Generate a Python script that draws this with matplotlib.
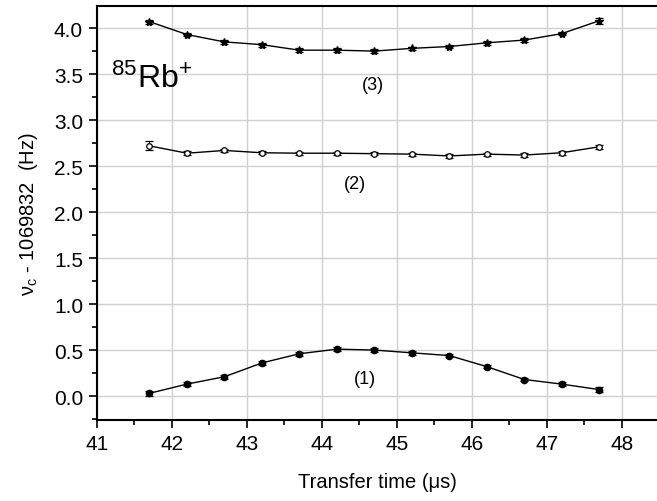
import matplotlib
matplotlib.use("Agg")
import matplotlib.pyplot as plt
from matplotlib.ticker import MultipleLocator

plt.rcParams['font.family'] = ['Liberation Sans', 'DejaVu Sans']
plt.rcParams['mathtext.fontset'] = 'custom'
plt.rcParams['mathtext.rm'] = 'Liberation Sans'
plt.rcParams['mathtext.it'] = 'Liberation Sans'

transfer_time = [41.7, 42.2, 42.7, 43.2, 43.7, 44.2, 44.7, 45.2, 45.7, 46.2, 46.7, 47.2, 47.7]
series3 = [4.07, 3.93, 3.85, 3.82, 3.76, 3.76, 3.75, 3.78, 3.80, 3.84, 3.87, 3.94, 4.08]
series3_err = [0.02, 0.02, 0.02, 0.02, 0.02, 0.02, 0.02, 0.02, 0.02, 0.02, 0.02, 0.02, 0.03]
series2 = [2.72, 2.64, 2.67, 2.645, 2.64, 2.64, 2.635, 2.63, 2.61, 2.63, 2.62, 2.645, 2.71]
series2_err = [0.05, 0.02, 0.02, 0.015, 0.015, 0.015, 0.015, 0.015, 0.02, 0.015, 0.02, 0.02, 0.02]
series1 = [0.03, 0.13, 0.21, 0.36, 0.46, 0.51, 0.50, 0.47, 0.44, 0.32, 0.18, 0.13, 0.07]
series1_err = [0.03, 0.02, 0.02, 0.02, 0.02, 0.02, 0.02, 0.02, 0.02, 0.02, 0.02, 0.02, 0.03]

fig = plt.figure(figsize=(6.57, 5.02), dpi=100)
ax = fig.add_axes([0.1476, 0.1614, 0.8524, 0.8246])

common = dict(color='black', lw=1.0, elinewidth=0.9, capsize=3, capthick=0.9)
ax.errorbar(transfer_time, series3, yerr=series3_err, fmt='-*', ms=6, mfc='black', **common, zorder=3)
ax.errorbar(transfer_time, series2, yerr=series2_err, fmt='-o', ms=4, mfc='white', mew=0.9, **common, zorder=3)
ax.errorbar(transfer_time, series1, yerr=series1_err, fmt='-o', ms=4.5, mfc='black', **common, zorder=3)

ax.set_xlim(41, 48.47)
ax.set_ylim(-0.26, 4.24)
ax.xaxis.set_major_locator(MultipleLocator(1))
ax.xaxis.set_minor_locator(MultipleLocator(0.5))
ax.yaxis.set_major_locator(MultipleLocator(0.5))
ax.yaxis.set_minor_locator(MultipleLocator(0.25))
ax.yaxis.set_major_formatter(matplotlib.ticker.FormatStrFormatter('%.1f'))

ax.grid(True, which='major', color='#d0d0d0', lw=1.0)
ax.set_axisbelow(True)
ax.spines['right'].set_visible(False)
for s in ['left', 'bottom', 'top']:
    ax.spines[s].set_linewidth(1.5)
ax.tick_params(which='major', direction='out', length=6, width=1.2, labelsize=15, pad=4, top=False, right=False)
ax.tick_params(which='minor', direction='out', length=3.5, width=1.2, top=False, right=False)

ax.set_xlabel('Transfer time (\u03bcs)', fontsize=14.5, labelpad=14)
ax.set_ylabel(r'$\mathregular{\nu_c}$ - 1069832  (Hz)', fontsize=14.5, labelpad=10)

ax.text(44.68, 3.39, '(3)', fontsize=13, ha='center', va='center')
ax.text(44.44, 2.31, '(2)', fontsize=13, ha='center', va='center')
ax.text(44.57, 0.19, '(1)', fontsize=13, ha='center', va='center')
ax.text(41.73, 3.45, r'$\mathregular{^{85}Rb^{+}}$', fontsize=23, ha='center', va='center')

fig.savefig('out.png', dpi=100)
